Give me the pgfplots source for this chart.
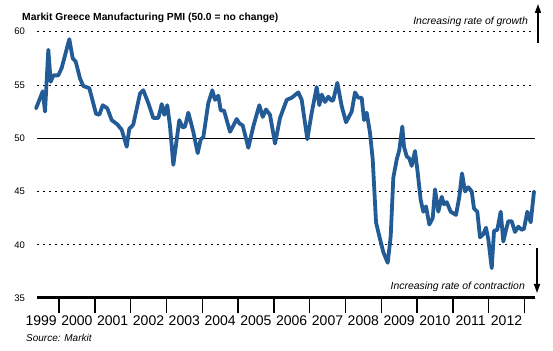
\documentclass[border=0pt]{standalone}
\usepackage{fontspec}
\setmainfont{Liberation Sans}
\usepackage{pgfplots}
\pgfplotsset{compat=1.18}
\usetikzlibrary{arrows.meta}
\definecolor{pmiblue}{RGB}{35,91,150}
\pgfplotstableread{
x y
1999.358 52.8
1999.545 54.4
1999.609 52.5
1999.701 58.3
1999.768 55.3
1999.841 55.9
1999.980 55.9
2000.075 56.6
2000.288 59.3
2000.383 57.5
2000.466 57.2
2000.587 55.6
2000.679 54.9
2000.846 54.7
2001.034 52.3
2001.126 52.2
2001.221 53.1
2001.349 52.8
2001.472 51.7
2001.628 51.3
2001.751 50.8
2001.891 49.2
2001.964 50.9
2002.031 51.1
2002.075 51.3
2002.263 54.2
2002.355 54.5
2002.494 53.3
2002.634 51.9
2002.774 51.9
2002.869 53.2
2002.941 52.2
2003.025 53.1
2003.101 51.1
2003.193 47.5
2003.360 51.7
2003.455 51.0
2003.520 51.1
2003.612 52.4
2003.751 50.6
2003.874 48.6
2003.958 49.9
2004.031 50.1
2004.170 53.3
2004.282 54.5
2004.358 53.6
2004.450 54.0
2004.517 52.6
2004.609 52.6
2004.777 50.6
2004.888 51.3
2004.964 51.8
2005.036 51.4
2005.131 51.2
2005.288 49.1
2005.427 51.1
2005.595 53.1
2005.690 52.0
2005.782 52.7
2005.894 52.2
2006.034 49.5
2006.173 51.9
2006.360 53.6
2006.500 53.8
2006.684 54.3
2006.779 53.6
2006.936 49.9
2007.059 52.4
2007.198 54.8
2007.271 53.1
2007.338 54.1
2007.430 53.4
2007.522 53.9
2007.617 53.5
2007.662 53.6
2007.774 55.2
2007.897 53.0
2008.017 51.5
2008.176 52.5
2008.268 54.3
2008.360 53.8
2008.455 53.8
2008.520 51.7
2008.595 52.4
2008.687 50.5
2008.763 48.0
2008.855 42.1
2008.947 40.8
2009.059 39.3
2009.182 38.3
2009.265 40.8
2009.338 46.3
2009.433 48.0
2009.506 48.9
2009.589 51.1
2009.637 49.2
2009.712 48.3
2009.785 48.1
2009.852 47.4
2009.944 48.8
2010.008 47.1
2010.103 44.2
2010.176 43.1
2010.251 43.6
2010.344 41.9
2010.439 42.5
2010.503 45.2
2010.595 43.1
2010.690 44.5
2010.754 43.8
2010.830 44.0
2010.941 43.1
2011.089 42.8
2011.182 44.5
2011.257 46.7
2011.341 45.0
2011.433 45.4
2011.528 45.0
2011.592 43.4
2011.684 43.1
2011.760 40.7
2011.852 41.0
2011.927 41.6
2011.992 40.5
2012.087 37.8
2012.151 41.3
2012.243 41.4
2012.338 43.1
2012.411 40.3
2012.486 41.4
2012.550 42.2
2012.645 42.2
2012.737 41.2
2012.830 41.7
2012.925 41.4
2012.989 41.5
2013.081 43.1
2013.176 42.1
2013.268 45.0
}\pmidata
\begin{document}
\begin{tikzpicture}[x=1pt,y=1pt]
\path[use as bounding box] (0,0) rectangle (553,350);
\begin{axis}[
  at={(37pt,52pt)}, anchor=south west,
  scale only axis, width=498pt, height=266.3pt,
  xmin=1999.385, xmax=2013.296, ymin=35, ymax=60,
  clip=false,
  axis lines=left,
  x axis line style={-, line width=3pt, black},
  y axis line style={draw=none},
  /pgf/number format/assume math mode=true,
  major tick length=15pt,
  tick align=outside,
  ytick={35,40,45,55,60},
  extra y ticks={50},
  extra y tick labels={50},
  extra y tick style={grid=major, grid style={solid, line width=1.2pt, black, dash pattern=}},
  ymajorgrids=true,
  grid style={black, line width=0.9pt, dash pattern=on 2.4pt off 3.6pt},
  ytick style={draw=none},
  yticklabel style={font=\fontsize{9.5}{10}\selectfont, anchor=east, inner sep=0pt, xshift=3pt},
  xtick={1999.5,2000.5,2001.5,2002.5,2003.5,2004.5,2005.5,2006.5,2007.5,2008.5,2009.5,2010.5,2011.5,2012.5},
  xticklabels={1999,2000,2001,2002,2003,2004,2005,2006,2007,2008,2009,2010,2011,2012},
  xtick style={draw=none},
  xticklabel style={font=\fontsize{14}{14}\selectfont, anchor=base, inner sep=0pt, yshift=-12pt},
  extra x ticks={2000,2001,2002,2003,2004,2005,2006,2007,2008,2009,2010,2011,2012,2013},
  extra x tick labels={},
  extra x tick style={major tick length=15pt, tick align=outside, xtick style={draw=black, line width=1.4pt}},
]
\addplot[pmiblue, line width=3.8pt, line join=round, line cap=round] table[x=x,y=y] {\pmidata};
\end{axis}
\node[anchor=base west, inner sep=0pt, font=\bfseries\fontsize{10.3}{12}\selectfont] at (22,329.3) {Markit Greece Manufacturing PMI (50.0 = no change)};
\node[anchor=base west, inner sep=0pt, font=\itshape\fontsize{10}{12}\selectfont] at (26,8.5) {Source: Markit};
\node[anchor=base east, inner sep=0pt, font=\itshape\fontsize{10.4}{12}\selectfont] at (528,325) {Increasing rate of growth};
\node[anchor=base east, inner sep=0pt, font=\itshape\fontsize{10.4}{12}\selectfont] at (525,60.7) {Increasing rate of contraction};
\draw[line width=1.5pt, -{Triangle[length=9pt,width=6pt]}] (538,307) -- (538,346);
\draw[line width=1.5pt, -{Triangle[length=9pt,width=6pt]}] (537,102) -- (537,57);
\end{tikzpicture}
\end{document}
